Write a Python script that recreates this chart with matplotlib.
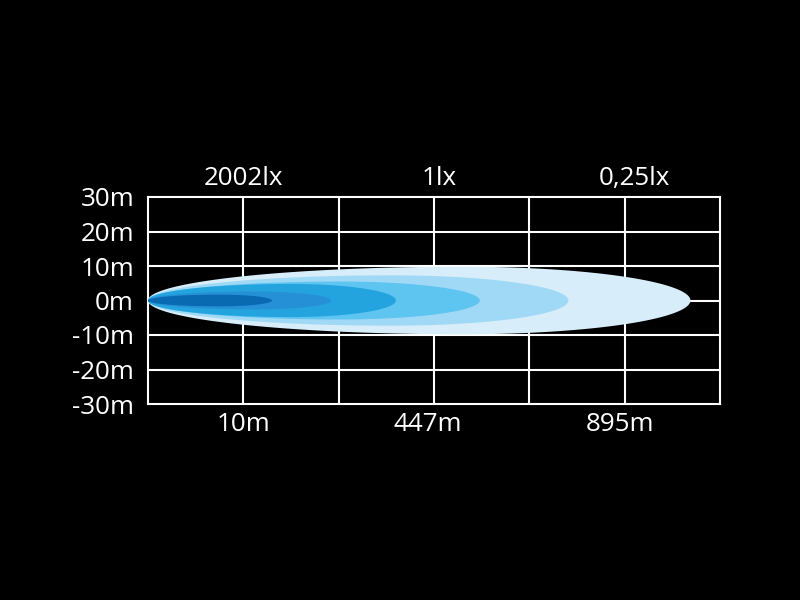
import numpy as np
import matplotlib
matplotlib.use("Agg")
import matplotlib.pyplot as plt
from matplotlib.patches import Polygon

# --- data ---
y_ticks = [30, 20, 10, 0, -10, -20, -30]
y_labels = ["30m", "20m", "10m", "0m", "-10m", "-20m", "-30m"]
dist_pos = [1.0, 2.93, 4.95]
dist_labels = ["10m", "447m", "895m"]
lux_pos = [1.0, 3.05, 5.1]
lux_labels = ["2002lx", "1lx", "0,25lx"]
# beam layers (outer -> inner): reach in grid columns, half width in m
beam_reach = [5.69, 4.41, 3.48, 2.60, 1.92, 1.30]
beam_half = [9.8, 7.3, 5.5, 4.8, 2.6, 1.7]
beam_colors = ["#d7edfa", "#a0d9f5", "#5ec4f0", "#24a4de", "#2690d6", "#0969b1"]

fig = plt.figure(figsize=(8, 6), dpi=100, facecolor="black")
ax = fig.add_axes([148/800, 1-404/600, (720-148)/800, (404-197)/600])
ax.set_facecolor("black")
ax.set_xlim(0, 6)
ax.set_ylim(-30, 30)

# grid
for gx in range(1, 6):
    ax.axvline(gx, color="white", lw=1.5, zorder=1)
for gy in [20, 10, 0, -10, -20]:
    ax.axhline(gy, color="white", lw=1.5, zorder=1)
for s in ax.spines.values():
    s.set_color("white")
    s.set_linewidth(1.5)
    s.set_zorder(1)

def beam_outline(reach, half, c=0.58):
    peak = c * reach
    t1 = np.linspace(np.pi, np.pi/2, 60)
    xl = peak + peak * np.cos(t1)
    yl = half * np.sin(t1)
    t2 = np.linspace(np.pi/2, 0, 60)
    xr = peak + (reach - peak) * np.cos(t2)
    yr = half * np.sin(t2)
    xs = np.concatenate([xl, xr])
    ys = np.concatenate([yl, yr])
    pts = np.column_stack([np.concatenate([xs, xs[::-1]]),
                           np.concatenate([ys, -ys[::-1]])])
    return pts

for i, (r, h, col) in enumerate(zip(beam_reach, beam_half, beam_colors)):
    ax.add_patch(Polygon(beam_outline(r, h), closed=True, facecolor=col,
                         edgecolor="none", zorder=2 + i))

font = "Open Sans"
fs = 18.7
ax.set_yticks(y_ticks)
ax.set_yticklabels(y_labels, fontsize=fs, color="white", fontfamily=font)
ax.set_xticks(dist_pos)
ax.set_xticklabels(dist_labels, fontsize=fs, color="white", fontfamily=font)
ax.tick_params(length=0, pad=6)
ax.tick_params(axis="y", pad=10)

ax2 = ax.secondary_xaxis("top")
ax2.set_xticks(lux_pos)
ax2.set_xticklabels(lux_labels, fontsize=fs, color="white", fontfamily=font)
ax2.tick_params(length=0, pad=4)
for s in ax2.spines.values():
    s.set_visible(False)

fig.savefig("out.png", dpi=100, facecolor="black")
